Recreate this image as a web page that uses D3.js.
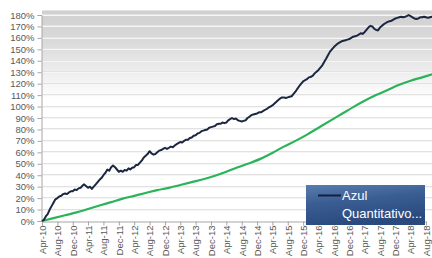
<!DOCTYPE html>
<html>
<head>
<meta charset="utf-8">
<script src="https://cdn.jsdelivr.net/npm/d3@7"></script>
<style>
  body { margin: 0; background: #fff; }
  svg text { font-family: "Liberation Sans", Arial, sans-serif; }
</style>
</head>
<body>
<div id="chart"></div>
<script>
// values in %, Azul every half month from Apr-10, CDI every quarter from Apr-10
var azulValues = [
  0, 1, 4, 6, 10, 13, 16, 19, 20, 21.5, 22, 23.5, 24, 23.5, 25, 26, 26, 27.5, 27, 28.5,
  29, 31, 32, 30.5, 29, 30, 28, 30, 32, 34, 36, 37.5, 40, 42, 45, 44, 47, 48.5, 47, 45,
  43, 44, 43, 44.5, 44, 46, 45, 46.5, 47, 49, 49, 51, 53, 55.5, 57, 58.5, 61, 59, 58, 58.5,
  60, 61.5, 62, 63, 64, 63, 64, 65, 64.5, 66, 67, 68, 69, 68.5, 70, 71, 71, 72.5, 73, 74.5,
  75, 76.5, 77, 78.5, 79, 79.5, 80, 81.5, 82, 82.5, 83, 84.5, 85, 85, 86, 85.5, 86, 88, 89, 90,
  89, 89.5, 88, 87.5, 87, 87.5, 88, 90, 91, 92.5, 93, 93.5, 94, 95, 95, 96, 97, 98, 99, 100,
  101, 102.5, 104, 105.5, 107, 108, 108, 107.5, 108, 108.5, 109, 111, 113, 115.5, 118, 120, 122, 123, 124, 125.5,
  126, 127, 129, 130.5, 132, 134, 136, 139, 142, 145, 148, 150, 152, 153.5, 155, 156, 157, 157.5, 158, 158.5,
  159, 160, 161, 161.5, 162, 163, 164, 163.5, 165, 167, 169, 170.5, 170, 168, 167, 166.5, 169, 170.5, 172, 173,
  174, 174.5, 175, 176, 177, 177.5, 178, 178.5, 178, 178.5, 179, 180, 179, 178, 177, 176.5, 177, 178, 178, 178.5,
  178, 177.5, 178, 178.5, 178
];
var cdiValues = [
  0, 2.5, 5, 7.5, 10.5, 13.5, 16.5, 19.5, 22, 24.5, 27, 29, 31.5, 34, 36.5, 39.5, 43, 47,
  50.5, 54.5, 59.5, 65, 70, 75.5, 81.5, 87.5, 93.5, 99.5, 105, 110, 114.5, 119, 122.5, 125.5, 128.5
];
var yTicks = [0, 10, 20, 30, 40, 50, 60, 70, 80, 90, 100, 110, 120, 130, 140, 150, 160, 170, 180];
var legendLines = ["Azul", "Quantitativo..."];

var W = 432, H = 258;
var start = new Date(2010, 3, 1);

var azul = azulValues.map(function (v, k) {
  return { date: new Date(2010, 3 + Math.floor(k / 2), k % 2 ? 16 : 1), value: v };
});
var cdi = cdiValues.map(function (v, k) {
  return { date: new Date(2010, 3 + k * 3, 1), value: v };
});

var svg = d3.select("#chart").append("svg")
    .attr("width", W)
    .attr("height", H);

var x = d3.scaleTime()
    .domain([start, new Date(2018, 7, 1)])
    .range([42, 426]);
var y = d3.scaleLinear()
    .domain([0, 180])
    .range([221, 15]);

// plot area background
var defs = svg.append("defs");
var bg = defs.append("linearGradient").attr("id", "bg")
    .attr("x1", 0).attr("y1", 0).attr("x2", 0).attr("y2", 1);
bg.append("stop").attr("offset", "0%").attr("stop-color", "#d0d0d0");
bg.append("stop").attr("offset", "15%").attr("stop-color", "#dadada");
bg.append("stop").attr("offset", "42%").attr("stop-color", "#ffffff");
bg.append("stop").attr("offset", "100%").attr("stop-color", "#ffffff");

svg.append("rect")
    .attr("x", 42).attr("y", y(184))
    .attr("width", W - 42).attr("height", y(0) - y(184))
    .attr("fill", "url(#bg)");

// gridlines
var grid = svg.append("g");
yTicks.forEach(function (t) {
  if (t === 0) return;
  grid.append("line")
      .attr("x1", 42).attr("x2", W)
      .attr("y1", Math.round(y(t)) - 0.5).attr("y2", Math.round(y(t)) - 0.5)
      .attr("stroke", "#e2e2e2");
  grid.append("line")
      .attr("x1", 42).attr("x2", W)
      .attr("y1", Math.round(y(t)) + 0.5).attr("y2", Math.round(y(t)) + 0.5)
      .attr("stroke", "#f6f6f6");
});

// y axis
var yAxis = svg.append("g")
    .attr("transform", "translate(41.5,0)")
    .call(d3.axisLeft(y).tickValues(yTicks).tickSize(4).tickPadding(3)
      .tickFormat(function (d) { return d + "%"; }));
yAxis.select(".domain").attr("stroke", "#a6a6a6");
yAxis.selectAll(".tick line").attr("stroke", "#a6a6a6");
yAxis.selectAll("text").attr("fill", "#595959").style("font-size", "9.5px");

// x axis
var xTicks = d3.timeMonth.range(start, new Date(2018, 8, 2), 4);
var xAxis = svg.append("g")
    .attr("transform", "translate(0," + (y(0) + 0.5) + ")")
    .call(d3.axisBottom(x).tickValues(xTicks).tickSize(4).tickSizeOuter(0)
      .tickFormat(d3.timeFormat("%b-%y")));
xAxis.select(".domain").attr("stroke", "#a6a6a6");
xAxis.selectAll(".tick line").attr("stroke", "#a6a6a6");
xAxis.selectAll("text")
    .attr("fill", "#595959")
    .style("font-size", "9.5px")
    .attr("text-anchor", "end")
    .attr("transform", "rotate(-90)")
    .attr("x", -4)
    .attr("y", 0)
    .attr("dy", "0.35em");

// lines
var line = d3.line()
    .x(function (d) { return x(d.date); })
    .y(function (d) { return y(d.value); });

svg.append("path")
    .datum(cdi)
    .attr("fill", "none")
    .attr("stroke", "#2bb35a")
    .attr("stroke-width", 2.2)
    .attr("d", line.curve(d3.curveMonotoneX));

svg.append("path")
    .datum(azul)
    .attr("fill", "none")
    .attr("stroke", "#1b2640")
    .attr("stroke-width", 2)
    .attr("stroke-linejoin", "round")
    .attr("d", line.curve(d3.curveLinear));

// legend
var lg = defs.append("linearGradient").attr("id", "lg")
    .attr("x1", 0).attr("y1", 0).attr("x2", 0.3).attr("y2", 1);
lg.append("stop").attr("offset", "0%").attr("stop-color", "#5a7db0");
lg.append("stop").attr("offset", "45%").attr("stop-color", "#3a5d93");
lg.append("stop").attr("offset", "100%").attr("stop-color", "#2a4a7e");

var legend = svg.append("g");
legend.append("rect")
    .attr("x", 306).attr("y", 185)
    .attr("width", 119).attr("height", 40)
    .attr("fill", "url(#lg)");
legend.append("line")
    .attr("x1", 318).attr("x2", 341)
    .attr("y1", 195.5).attr("y2", 195.5)
    .attr("stroke", "#14203a")
    .attr("stroke-width", 2);
legend.selectAll("text.lg")
    .data(legendLines)
    .enter().append("text")
    .attr("class", "lg")
    .attr("x", 342)
    .attr("y", function (d, i) { return 200 + i * 18; })
    .attr("fill", "#ffffff")
    .style("font-size", "13px")
    .text(function (d) { return d; });
</script>
</body>
</html>
